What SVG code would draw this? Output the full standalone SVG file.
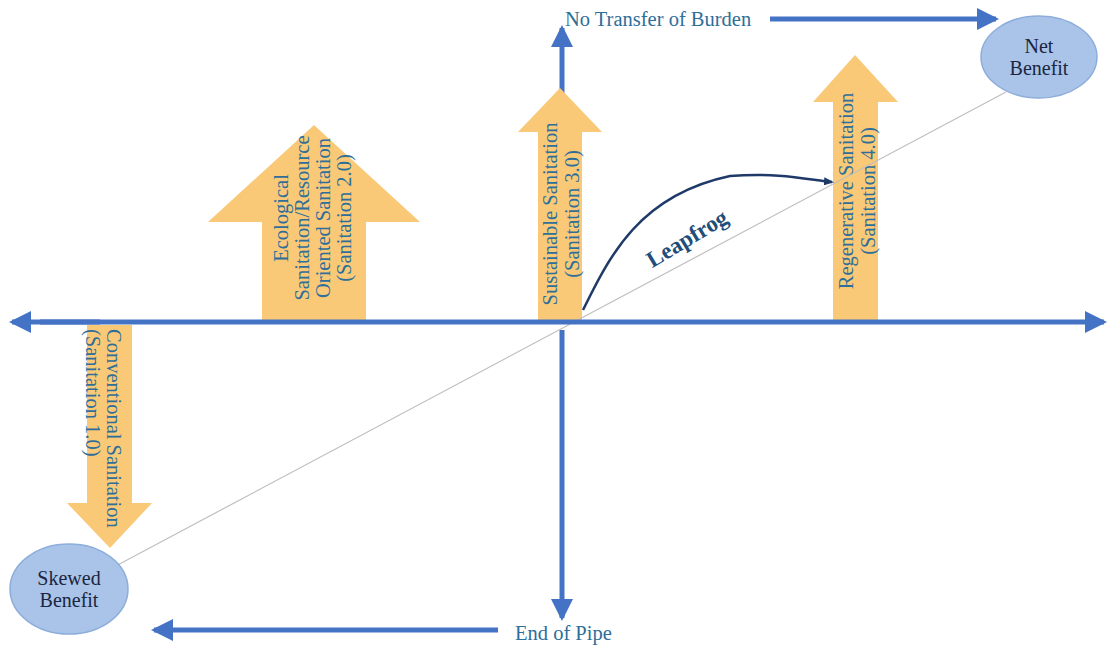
<svg xmlns="http://www.w3.org/2000/svg" width="1109" height="645" viewBox="0 0 1109 645">
<style>
.axis{stroke:#4472C4;stroke-width:5;fill:none}
.yel{fill:#F9C978}
.lbl{font-family:"Liberation Serif",serif;font-size:20.5px;fill:#2E6E99}
.node{fill:#A9C4E8;stroke:#8DADDB;stroke-width:1.5}
.ntxt{font-family:"Liberation Serif",serif;font-size:20px;fill:#1C2541;text-anchor:middle}
.diag{stroke:#BFBFBF;stroke-width:1.2;fill:none}
</style>
<defs>
<marker id="ah" markerWidth="4.4" markerHeight="4.4" refX="3.8" refY="2.2" orient="auto" markerUnits="strokeWidth">
<path d="M0,0 L4.4,2.2 L0,4.4 Z" fill="#4472C4"/>
</marker>
<marker id="ahn" markerWidth="10" markerHeight="8" refX="8" refY="4" orient="auto" markerUnits="userSpaceOnUse">
<path d="M0,0 L10,4 L0,8 Z" fill="#1F3A68"/>
</marker>
</defs>
<g id="connectors">
<line class="axis" x1="562" y1="300" x2="562" y2="28" marker-end="url(#ah)"/>
<line class="axis" x1="562" y1="330" x2="562" y2="618" marker-end="url(#ah)"/>
<line class="axis" x1="770" y1="19" x2="996" y2="19" marker-end="url(#ah)"/>
<line class="axis" x1="498" y1="630" x2="154" y2="630" marker-end="url(#ah)"/>
</g>
<g id="arrow-conventional">
<polygon class="yel" points="87,325 132,325 132,503 152,503 110,548 67,503 87,503"/>
<text class="lbl" transform="translate(107,329) rotate(90)"><tspan x="0" y="0">Conventional Sanitation</tspan><tspan x="0" y="21.5">(Sanitation 1.0)</tspan></text>
</g>
<g id="arrow-ecological">
<polygon class="yel" points="262,320 366,320 366,222 420,222 314,125 208,222 262,222"/>
<text class="lbl" text-anchor="middle" transform="translate(288,218) rotate(-90)"><tspan x="0" y="0">Ecological</tspan><tspan x="0" y="21">Sanitation/Resource</tspan><tspan x="0" y="42">Oriented Sanitation</tspan><tspan x="0" y="63">(Sanitation 2.0)</tspan></text>
</g>
<g id="arrow-sustainable">
<polygon class="yel" points="538,320 582,320 582,132 602,132 560,88 518,132 538,132"/>
<text class="lbl" text-anchor="middle" transform="translate(557,214) rotate(-90)"><tspan x="0" y="0">Sustainable Sanitation</tspan><tspan x="0" y="21.5">(Sanitation 3.0)</tspan></text>
</g>
<g id="arrow-regenerative">
<polygon class="yel" points="833,320 878,320 878,102 898,102 855,55 813,102 833,102"/>
<text class="lbl" text-anchor="middle" transform="translate(853,191) rotate(-90)"><tspan x="0" y="0">Regenerative Sanitation</tspan><tspan x="0" y="21.5">(Sanitation 4.0)</tspan></text>
</g>
<g id="diagonal">
<line class="diag" x1="112" y1="568" x2="1006" y2="92"/>
</g>
<g id="horizontal-axis">
<line class="axis" x1="40" y1="322" x2="1104" y2="322" marker-end="url(#ah)"/>
<line class="axis" x1="100" y1="322" x2="12" y2="322" marker-end="url(#ah)"/>
</g>
<g id="leapfrog">
<path d="M583,310 C610,255 640,195 730,176 C780,172 810,180 832,182" fill="none" stroke="#1F3A68" stroke-width="2.5" marker-end="url(#ahn)"/>
<text font-family="Liberation Serif, serif" font-weight="bold" font-size="23" fill="#1F4E79" text-anchor="middle" transform="translate(691,245) rotate(-31)">Leapfrog</text>
</g>
<g id="node-net-benefit">
<ellipse class="node" cx="1039" cy="57" rx="58" ry="41"/>
<text class="ntxt" x="1039" y="53">Net</text>
<text class="ntxt" x="1039" y="75">Benefit</text>
</g>
<g id="node-skewed-benefit">
<ellipse class="node" cx="69" cy="589" rx="59" ry="45"/>
<text class="ntxt" x="69" y="585">Skewed</text>
<text class="ntxt" x="69" y="607">Benefit</text>
</g>
<g id="labels">
<text class="lbl" x="565" y="26">No Transfer of Burden</text>
<text class="lbl" x="515" y="640">End of Pipe</text>
</g>
</svg>
